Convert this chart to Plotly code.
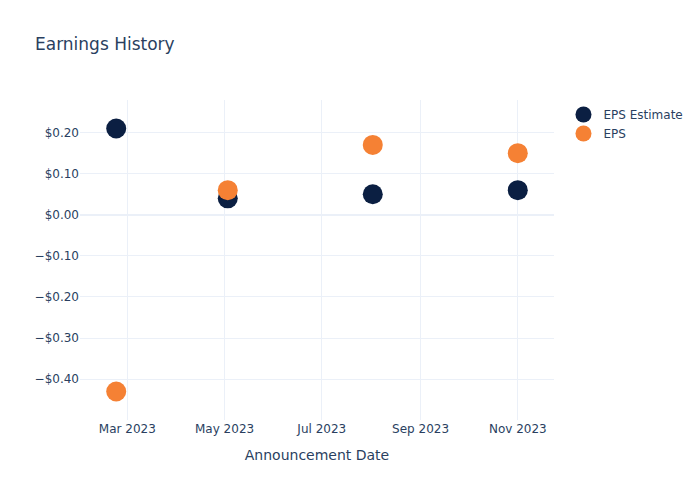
import plotly.graph_objects as go

dates = ["2023-02-22", "2023-05-03", "2023-08-02", "2023-11-01"]
eps_estimate = [0.21, 0.04, 0.05, 0.06]
eps_actual = [-0.43, 0.06, 0.17, 0.15]

fig = go.Figure()
fig.add_trace(go.Scatter(x=dates, y=eps_estimate, mode="markers", name="EPS Estimate",
                         marker=dict(size=20, color="#0b1f42")))
fig.add_trace(go.Scatter(x=dates, y=eps_actual, mode="markers", name="EPS",
                         marker=dict(size=20, color="#f58134")))
fig.update_layout(
    title=dict(text="Earnings History"),
    width=700, height=500,
    template="plotly_white",
    font=dict(family="DejaVu Sans"),
    xaxis=dict(title="Announcement Date"),
    yaxis=dict(tickformat="$.2f"),
)
fig.write_html("out.html")
